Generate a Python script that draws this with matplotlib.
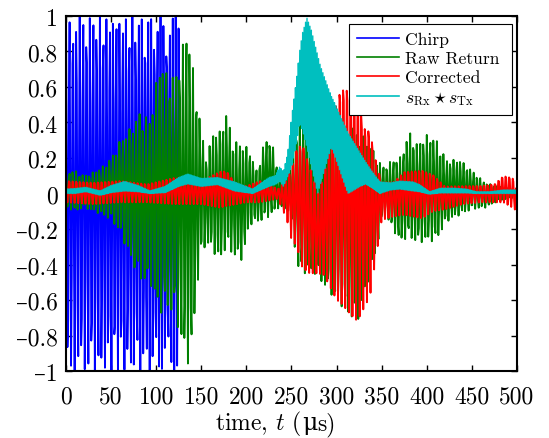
import numpy as np
import matplotlib
matplotlib.use("Agg")
import matplotlib.pyplot as plt
from matplotlib.ticker import FuncFormatter, MultipleLocator
from matplotlib.offsetbox import TextArea, HPacker, AnchoredOffsetbox

# cmr10 has no en dash, that falls through to DejaVu Serif
plt.rcParams["font.family"] = ["cmr10", "DejaVu Serif"]
plt.rcParams["mathtext.fontset"] = "cm"
plt.rcParams["axes.unicode_minus"] = False

# ── Sampling (time in µs, frequency in MHz) ──────────────────────────────────
dt = 0.8
t = np.arange(0, 500 + dt, dt)

# ── Transmitted chirp ────────────────────────────────────────────────────────
chirp_len = 125.0
chirp_f0, chirp_f1 = 0.26, 0.30
chirp_amp = 1.0

# ── Raw return: envelope knots (upper / lower) ───────────────────────────────
raw_t = [0, 10, 20, 30, 40, 50, 60, 70, 82, 93, 104, 112, 121, 128, 134, 139,
         145, 150, 156, 163, 171, 178, 185, 196, 203, 212, 220, 228, 236, 248,
         257, 265, 275, 290, 300, 315, 323, 335, 345, 352, 362, 370, 381, 389,
         400, 410, 422, 437, 450, 465, 480, 500]
raw_hi = [0.12, 0.13, 0.10, 0.12, 0.15, 0.20, 0.30, 0.36, 0.46, 0.42, 0.74, 0.68,
          0.66, 0.80, 0.95, 0.78, 0.55, 0.36, 0.20, 0.35, 0.35, 0.46, 0.30, 0.28,
          0.25, 0.12, 0.30, 0.30, 0.10, 0.15, 0.42, 0.40, 0.35, 0.35, 0.35, 0.40,
          0.35, 0.30, 0.20, 0.15, 0.19, 0.20, 0.35, 0.28, 0.33, 0.31, 0.19, 0.19,
          0.13, 0.06, 0.04, 0.02]
raw_lo = [-0.08, -0.10, -0.08, -0.10, -0.12, -0.15, -0.22, -0.35, -0.49, -0.50,
          -0.68, -0.65, -0.69, -0.85, -0.97, -0.92, -0.55, -0.35, -0.28, -0.33,
          -0.38, -0.30, -0.35, -0.38, -0.18, -0.16, -0.15, -0.12, -0.08, -0.10,
          -0.43, -0.45, -0.45, -0.55, -0.60, -0.70, -0.73, -0.50, -0.30, -0.10,
          -0.20, -0.27, -0.25, -0.28, -0.27, -0.27, -0.16, -0.12, -0.09, -0.08,
          -0.04, -0.02]
raw_f = 0.27

# ── Corrected return ─────────────────────────────────────────────────────────
cor_t = [0, 30, 60, 90, 120, 150, 171, 178, 190, 200, 215, 235, 245, 250, 256,
         262, 270, 279, 286, 294, 300, 305, 315, 323, 330, 337, 344, 350, 363,
         375, 395, 407, 420, 440, 460, 475, 485, 495, 500]
cor_hi = [0.08, 0.07, 0.08, 0.06, 0.10, 0.08, 0.14, 0.14, 0.05, 0.05, 0.08, 0.03,
          0.10, 0.18, 0.30, 0.33, 0.20, 0.04, 0.15, 0.45, 0.60, 0.68, 0.68, 0.66,
          0.45, 0.42, 0.21, 0.08, 0.08, 0.14, 0.15, 0.12, 0.05, 0.05, 0.05, 0.06,
          0.11, 0.10, 0.03]
cor_lo = [-0.05, -0.06, -0.05, -0.05, -0.06, -0.06, -0.08, -0.07, -0.06, -0.05,
          -0.05, -0.03, -0.15, -0.26, -0.30, -0.42, -0.45, -0.45, -0.46, -0.54,
          -0.60, -0.62, -0.68, -0.72, -0.65, -0.58, -0.35, -0.15, -0.13, -0.12,
          -0.14, -0.10, -0.09, -0.06, -0.05, -0.05, -0.05, -0.08, -0.10]
cor_f = 0.25

# ── Cross-correlation s_Rx * s_Tx ────────────────────────────────────────────
xc_t = [0, 10, 22, 38, 50, 65, 80, 93, 110, 125, 135, 150, 168, 187, 207, 225,
        232, 237, 241, 246, 250, 256, 259, 262, 267, 272, 279, 282, 294, 296,
        311, 313, 326, 332, 340, 348, 360, 370, 385, 392, 403, 415, 430, 444,
        455, 470, 485, 500]
xc_hi = [0.025, 0.028, 0.035, 0.015, 0.045, 0.068, 0.045, 0.015, 0.04, 0.09,
         0.11, 0.085, 0.09, 0.065, 0.025, 0.09, 0.10, 0.15, 0.12, 0.23,
         0.42, 0.66, 0.80, 0.90, 0.99, 0.92, 0.78, 0.72, 0.55, 0.53,
         0.36, 0.34, 0.23, 0.18, 0.12, 0.065, 0.06, 0.07, 0.065, 0.05,
         0.01, 0.03, 0.03, 0.025, 0.01, 0.01, 0.02, 0.02]
xc_lo = [0.0, 0.0, 0.01, -0.01, 0.005, 0.014, 0.01, 0.0, 0.005, 0.04,
         0.054, 0.04, 0.05, 0.014, 0.0, 0.04, 0.05, 0.07, 0.04, 0.10,
         0.15, 0.30, 0.40, 0.36, 0.26, 0.15, 0.0, 0.05, 0.26, 0.24,
         0.02, 0.0, 0.04, 0.054, 0.03, 0.0, 0.02, 0.025, 0.014, 0.01,
         -0.004, 0.003, 0.003, 0.003, 0.0, 0.0, 0.0, 0.0]


def modulated(tt, kt, hi, lo, phase):
    """Carrier with phase `phase` riding between an upper and lower envelope."""
    hi = np.interp(tt, kt, hi)
    lo = np.interp(tt, kt, lo)
    return 0.5 * (hi + lo) + 0.5 * (hi - lo) * np.cos(phase)


chirp_phase = 2 * np.pi * (chirp_f0 * t + (chirp_f1 - chirp_f0) * t**2 / (2 * chirp_len))
chirp = np.where(t <= chirp_len, chirp_amp * np.cos(chirp_phase), 0.0)
raw = modulated(t, raw_t, raw_hi, raw_lo, 2 * np.pi * raw_f * t)
cor = modulated(t, cor_t, cor_hi, cor_lo, 2 * np.pi * cor_f * t + 0.7)
xc = modulated(t, xc_t, xc_hi, xc_lo, np.pi * np.arange(len(t)))

fig = plt.figure(figsize=(5.49, 4.39), dpi=100)
ax = fig.add_axes([0.1202, 0.1526, 0.8215, 0.8087])

lw = 1.35
ax.plot(t, chirp, color="#0000ff", lw=lw, label="Chirp")
ax.plot(t, raw, color="#008000", lw=lw, label="Raw Return")
ax.plot(t, cor, color="#ff0000", lw=lw, label="Corrected")
ax.plot(t, xc, color="#00bfbf", lw=1.0, label=r"$s_{\mathrm{Rx}} \star s_{\mathrm{Tx}}$")

ax.set_xlim(0, 500)
ax.set_ylim(-1, 1)
ax.xaxis.set_major_locator(MultipleLocator(50))
ax.yaxis.set_major_locator(MultipleLocator(0.2))
ax.yaxis.set_major_formatter(
    FuncFormatter(lambda v, p: f"{round(v, 1) + 0.0:g}".replace("-", "\u2013")))
ax.tick_params(direction="in", top=True, right=True, length=4, width=1.0,
               labelsize=17)
ax.tick_params(axis="x", pad=10)
ax.tick_params(axis="y", pad=6)
for s in ax.spines.values():
    s.set_linewidth(1.5)

# x label: the upright mu comes from DejaVu Serif, the rest from cmr10
fs = 17
label_parts = [
    TextArea("time, $t$ (", textprops=dict(fontsize=fs)),
    TextArea("\u03bc", textprops=dict(fontsize=fs, family="DejaVu Serif")),
    TextArea("s)", textprops=dict(fontsize=fs)),
]
xlabel = AnchoredOffsetbox(loc="upper center",
                           child=HPacker(children=label_parts, align="baseline",
                                         pad=0, sep=0),
                           bbox_to_anchor=(0.4645, -0.105), bbox_transform=ax.transAxes,
                           frameon=False, pad=0, borderpad=0)
ax.add_artist(xlabel)

leg = ax.legend(loc="upper left", bbox_to_anchor=(0.6275, 0.5, 0.3614, 0.477),
                mode="expand", borderaxespad=0, fontsize=12.7, handlelength=2.4,
                handletextpad=0.3, labelspacing=0.2, fancybox=False, framealpha=1,
                edgecolor="black", borderpad=0.45)
leg.get_frame().set_linewidth(0.8)
for ln in leg.get_lines():
    ln.set_linewidth(1.2)

fig.savefig("out.png", dpi=100)
